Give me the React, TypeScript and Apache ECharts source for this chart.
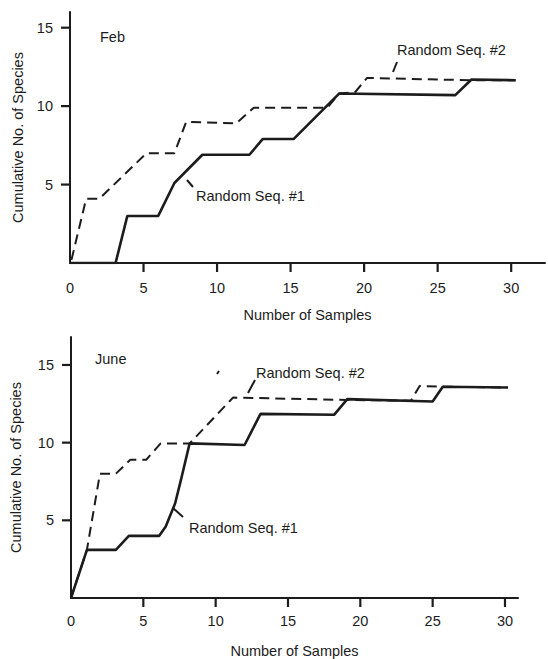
import React, { useEffect, useRef } from "react";
import * as echarts from "echarts";

// Tick labels
const xLabelValues = [0, 5, 10, 15, 20, 25, 30];
const xTickValues = [5, 10, 15, 20, 25, 30];
const yTickValues = [5, 10, 15];

// February — [samples, cumulative species]
const febSeq1 = [
  [0, 0], [3.1, 0], [3.9, 3.0], [6.0, 3.0], [7.1, 5.1], [9.0, 6.9], [12.2, 6.9],
  [13.1, 7.9], [15.2, 7.9], [18.3, 10.8], [26.2, 10.7], [27.3, 11.7], [30.3, 11.65],
];
const febSeq2 = [
  [0.1, 0.2], [1.1, 4.1], [2.0, 4.1], [5.2, 7.0], [7.1, 7.0], [7.9, 9.0], [11.3, 8.9],
  [12.5, 9.9], [17.5, 9.9], [18.3, 10.8], [19.4, 10.9], [20.2, 11.8], [27.2, 11.65],
  [30.3, 11.65],
];

// June — [samples, cumulative species]
const juneSeq1 = [
  [0, 0], [1.1, 3.1], [3.1, 3.1], [4.0, 4.0], [6.1, 4.0], [6.55, 4.6], [7.2, 6.1],
  [7.6, 7.6], [8.2, 9.95], [12.0, 9.85], [13.1, 11.85], [18.2, 11.8], [19.1, 12.8],
  [25.0, 12.65], [25.7, 13.6], [30.2, 13.55],
];
const juneSeq2 = [
  [0, 0], [1.1, 3.1], [2.0, 8.0], [3.1, 8.0], [4.1, 8.9], [5.2, 8.9], [6.2, 9.95],
  [8.2, 9.95], [11.2, 12.9], [19.1, 12.75], [23.5, 12.7], [24.1, 13.65], [25.7, 13.6],
  [30.2, 13.55],
];

export default function App() {
  const ref = useRef<HTMLDivElement>(null);
  useEffect(() => {
    const chart = echarts.init(ref.current!, null, { renderer: "svg" });
    const ink = "#1c1c1c";
    const font = "Liberation Sans, Arial, sans-serif";
    const txt = { color: ink, fontFamily: font, fontSize: 14.5 };

    const mkX = (gridIndex: number, max: number, margin: number, nameGap: number) => ({
      type: "value",
      gridIndex,
      min: 0,
      max,
      axisLine: { show: true, onZero: false, lineStyle: { color: ink, width: 2 } },
      axisTick: { show: false },
      axisLabel: { show: true, customValues: xLabelValues, margin, ...txt },
      splitLine: { show: false },
      name: "Number of Samples",
      nameLocation: "middle",
      nameGap,
      nameTextStyle: { ...txt },
    });
    const mkY = (gridIndex: number, max: number, nameGap: number) => ({
      type: "value",
      gridIndex,
      min: 0,
      max,
      axisLine: { show: true, onZero: false, lineStyle: { color: ink, width: 2 } },
      axisTick: { show: false },
      axisLabel: { show: true, customValues: yTickValues, margin: 17, ...txt },
      splitLine: { show: false },
      name: "Cumulative No. of Species",
      nameLocation: "middle",
      nameGap,
      nameTextStyle: { ...txt },
    });
    const mkLine = (data: number[][], idx: number, dashed: boolean) => ({
      type: "line",
      xAxisIndex: idx,
      yAxisIndex: idx,
      data,
      showSymbol: false,
      symbol: "none",
      lineStyle: dashed
        ? { color: ink, width: 2, type: [10, 6] }
        : { color: ink, width: 2.6 },
    });
    // Tick marks drawn through the axes' own scales
    const mkTicks = (idx: number, vertical: boolean) => ({
      type: "custom",
      xAxisIndex: idx,
      yAxisIndex: idx,
      clip: false,
      silent: true,
      data: vertical ? xTickValues.map((v) => [v, 0]) : yTickValues.map((v) => [0, v]),
      renderItem: (_params: any, api: any) => {
        const p = api.coord([api.value(0), api.value(1)]);
        const shape = vertical
          ? { x1: p[0], y1: p[1], x2: p[0], y2: p[1] + 9 }
          : { x1: p[0] - 9, y1: p[1], x2: p[0], y2: p[1] };
        return { type: "line", shape, style: { stroke: ink, lineWidth: 2.2 } };
      },
    });
    const label = (text: string, x: number, y: number) => ({
      type: "text",
      x,
      y,
      style: { text, fill: ink, font: `14.5px ${font}`, textVerticalAlign: "middle", verticalAlign: "middle" },
    });
    const leader = (x1: number, y1: number, x2: number, y2: number) => ({
      type: "line",
      shape: { x1, y1, x2, y2 },
      style: { stroke: ink, lineWidth: 2 },
    });

    chart.setOption({
      animation: false,
      grid: [
        { left: 70, top: 12, width: 475, height: 251 },
        { left: 67, top: 337, width: 451, height: 264 },
      ],
      xAxis: [mkX(0, 32.3, 17, 44), mkX(1, 30.9, 15, 45)],
      yAxis: [mkY(0, 16, 45), mkY(1, 16.8, 48)],
      series: [
        mkLine(febSeq2, 0, true),
        mkLine(febSeq1, 0, false),
        mkLine(juneSeq2, 1, true),
        mkLine(juneSeq1, 1, false),
        mkTicks(0, true),
        mkTicks(0, false),
        mkTicks(1, true),
        mkTicks(1, false),
      ],
      graphic: [
        label("Feb", 100, 37),
        label("Random Seq. #2", 397, 50),
        leader(397, 62, 393, 72),
        label("Random Seq. #1", 196, 196),
        leader(187, 180, 193, 187),
        label("June", 95, 359),
        label("Random Seq. #2", 256, 373),
        leader(255, 380, 248, 393),
        leader(217, 374, 219, 371),
        label("Random Seq. #1", 189, 528),
        leader(173, 508, 183, 517),
      ],
    });
    return () => chart.dispose();
  }, []);
  return (
    <div
      ref={ref}
      style={{ position: "absolute", left: 0, top: 0, width: 548, height: 659, background: "#fff" }}
    />
  );
}
